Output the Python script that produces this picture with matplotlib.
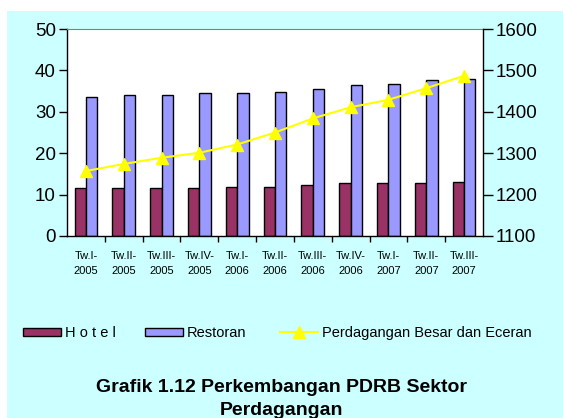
import matplotlib
matplotlib.use("Agg")
import matplotlib.pyplot as plt
import numpy as np
from matplotlib.patches import Rectangle
from matplotlib.lines import Line2D
from matplotlib.patches import Patch

plt.rcParams['font.family'] = ['Liberation Sans', 'DejaVu Sans']

categories = ["Tw.I-\n2005", "Tw.II-\n2005", "Tw.III-\n2005", "Tw.IV-\n2005", "Tw.I-\n2006",
              "Tw.II-\n2006", "Tw.III-\n2006", "Tw.IV-\n2006", "Tw.I-\n2007", "Tw.II-\n2007", "Tw.III-\n2007"]
hotel = [11.5, 11.5, 11.5, 11.5, 11.9, 11.9, 12.4, 12.8, 12.8, 12.8, 13.1]
restoran = [33.6, 34.1, 34.1, 34.5, 34.5, 34.9, 35.6, 36.4, 36.8, 37.6, 38.0]
perdagangan = [1257, 1274, 1289, 1301, 1321, 1350, 1384, 1411, 1429, 1457, 1487]

W, H = 563, 418
fig = plt.figure(figsize=(W/100, H/100), dpi=100)
fig.patch.set_facecolor('white')
fig.patches.append(Rectangle((7/W, 0), 1 - 7/W, 1 - 11/H, transform=fig.transFigure,
                             facecolor='#CCFFFF', edgecolor='none', zorder=-10))

ax = fig.add_axes([67/W, 1 - 236/H, (483-67)/W, (236-29)/H])
ax.set_facecolor('white')
x = np.arange(len(categories))
bw = 0.30
ax.bar(x - bw/2, hotel, bw, color='#993366', edgecolor='black', linewidth=1.0, zorder=2)
ax.bar(x + bw/2, restoran, bw, color='#9999FF', edgecolor='black', linewidth=1.0, zorder=2)
ax.set_xlim(-0.5, len(categories) - 0.5)
ax.set_ylim(0, 50)
ax.set_yticks([0, 10, 20, 30, 40, 50])
ax.tick_params(axis='y', labelsize=13.5, length=6, width=1, direction='out', pad=2)
ax.set_xticks(x)
ax.set_xticklabels(categories, fontsize=8, linespacing=1.6)
ax.tick_params(axis='x', length=0, pad=11)
ax.set_xticks(np.arange(0.5, len(categories) - 1, 1), minor=True)
ax.tick_params(axis='x', which='minor', length=4, width=1, direction='out')
for s in ['left', 'bottom']:
    ax.spines[s].set_color('black')
    ax.spines[s].set_linewidth(1.0)
ax.spines['top'].set_color('#808080')
ax.spines['right'].set_visible(False)

ax2 = ax.twinx()
ax2.plot(x, perdagangan, color='#FFFF00', linewidth=1.5, marker='^', markersize=8,
         markerfacecolor='#FFFF00', markeredgecolor='#FFFF00', zorder=3)
ax2.set_ylim(1100, 1600)
ax2.set_yticks([1100, 1200, 1300, 1400, 1500, 1600])
ax2.tick_params(axis='y', labelsize=13.5, length=7, width=1, direction='out', pad=2)
ax2.spines['right'].set_color('black')
ax2.spines['right'].set_linewidth(1.0)
ax2.spines['top'].set_visible(False)
ax2.spines['left'].set_visible(False)
ax2.spines['bottom'].set_visible(False)

handles = [Patch(facecolor='#993366', edgecolor='black', linewidth=1.0),
           Patch(facecolor='#9999FF', edgecolor='black', linewidth=1.0),
           Line2D([0], [0], color='#FFFF00', linewidth=1.5, marker='^', markersize=8,
                  markerfacecolor='#FFFF00', markeredgecolor='#FFFF00')]
labels = ['H o t e l', 'Restoran', 'Perdagangan Besar dan Eceran']
lefts = [23, 145, 280]
ly = 1 - 333/H
for h, l, xl in zip(handles, labels, lefts):
    fig.legend([h], [l], loc='center left', bbox_to_anchor=(xl/W, ly), frameon=False,
               fontsize=10.5, handlelength=2.6, handleheight=0.5, handletextpad=0.25,
               borderpad=0, borderaxespad=0)

fig.text(0.5, 1 - 392/H, "Grafik 1.12 Perkembangan PDRB Sektor", ha='center', va='baseline',
         fontsize=14, fontweight='bold')
fig.text(0.5, 1 - 415/H, "Perdagangan", ha='center', va='baseline',
         fontsize=14, fontweight='bold')

fig.savefig('out.png', dpi=100, facecolor=fig.get_facecolor())
